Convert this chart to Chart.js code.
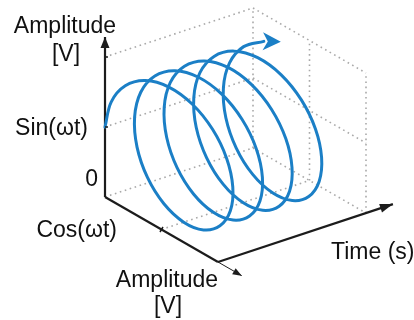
<!DOCTYPE html>
<html>
<head>
<meta charset="utf-8">
<script src="https://cdn.jsdelivr.net/npm/chart.js@4.4.0/dist/chart.umd.min.js"></script>
<style>
  html, body { margin: 0; padding: 0; background: #fff; }
  #wrap { width: 414px; height: 320px; }
</style>
</head>
<body>
<div id="wrap"><canvas id="helix" width="414" height="320"></canvas></div>
<script>
// one turn of the rotating phasor, 16 samples, starting on the back wall (cos = -1)
const cosWave = [-1, -0.924, -0.707, -0.383, 0, 0.383, 0.707, 0.924, 1, 0.924, 0.707, 0.383, 0, -0.383, -0.707, -0.924];
const sinWave = [0, 0.383, 0.707, 0.924, 1, 0.924, 0.707, 0.383, 0, -0.383, -0.707, -0.924, -1, -0.924, -0.707, -0.383];
const helixSamples = 68;            // 4 turns and a bit, ends just past the top
const timeRange = [0, 5];           // box length along time (in turns)
const depthLevels = [0, 0.5, 1];    // Cos axis
const heightLevels = [0, 0.5, 1];   // Sin axis
const axisTips = { height: 1.143, depth: 1.21, time: 5.91 };
const labelTexts = ['Amplitude', '[V]', 'Sin(ωt)', '0', 'Cos(ωt)', 'Amplitude', '[V]', 'Time (s)'];

// oblique view: time goes up-right, depth (cos) goes down-right, height (sin) goes up
const view = { ox: 105, oy: 197, tx: 29.6, ty: -9.8, dx: 113, dy: 65, hy: -140 };
function proj(t, d, h) {
    return { x: view.ox + t * view.tx + d * view.dx, y: view.oy + t * view.ty + d * view.dy + h * view.hy };
}

const per = cosWave.length;
const helixPts = [];
for (let i = 0; i < helixSamples; i++) {
    const k = i % per;
    helixPts.push(proj(i / per, 0.5 + 0.5 * cosWave[k], 0.5 + 0.5 * sinWave[k]));
}

const tEnd = timeRange[1];
const dMid = depthLevels[1], dMax = depthLevels[2];
const hMid = heightLevels[1], hMax = heightLevels[2];
const gridEdges = [
    [[0, 0, hMax], [tEnd, 0, hMax]],
    [[0, 0, hMid], [tEnd, 0, hMid]],
    [[0, 0, 0], [tEnd, 0, 0]],
    [[tEnd, 0, 0], [tEnd, 0, hMax]],
    [[tEnd, 0, hMax], [tEnd, dMax, hMax]],
    [[tEnd, dMid, 0], [tEnd, dMid, hMax]],
    [[tEnd, dMax, 0], [tEnd, dMax, hMax]],
    [[tEnd, 0, hMid], [tEnd, dMax, hMid]],
    [[tEnd, 0, 0], [tEnd, dMax, 0]],
    [[0, dMid, 0], [tEnd, dMid, 0]]
];

const datasets = [];
datasets.push({
    data: helixPts, showLine: true, borderColor: '#1b7fc6', borderWidth: 3,
    tension: 0.34, pointRadius: 0, borderCapStyle: 'round', borderJoinStyle: 'round', order: 1
});
// axes
const axisLines = [
    { a: [0, 0, 0], b: [0, 0, axisTips.height], w: 2.2 },
    { a: [0, 0, 0], b: [0, dMax, 0], w: 2.2 },
    { a: [0, dMax, 0], b: [0, axisTips.depth, 0], w: 1 },
    { a: [0, dMax, 0], b: [axisTips.time, dMax, 0], w: 2.2 }
];
axisLines.forEach(l => {
    datasets.push({
        data: [proj(...l.a), proj(...l.b)], showLine: true, borderColor: '#1c1c1c',
        borderWidth: l.w, pointRadius: 0, order: 2
    });
});
gridEdges.forEach(([a, b]) => {
    datasets.push({
        data: [proj(...a), proj(...b)], showLine: true, borderColor: '#a9a9a9',
        borderWidth: 1.6, borderDash: [1.6, 3.6], pointRadius: 0, order: 3
    });
});

function head(ctx, tip, ang, len, half, notch, color) {
    ctx.save();
    ctx.translate(tip.x, tip.y);
    ctx.rotate(ang);
    ctx.beginPath();
    ctx.moveTo(0, 0);
    ctx.lineTo(-len, -half);
    ctx.lineTo(-len + notch, 0);
    ctx.lineTo(-len, half);
    ctx.closePath();
    ctx.fillStyle = color;
    ctx.fill();
    ctx.restore();
}

const decor = {
    id: 'decor',
    afterDatasetsDraw(chart) {
        const ctx = chart.ctx;
        const sx = chart.scales.x, sy = chart.scales.y;
        const px = p => ({ x: sx.getPixelForValue(p.x), y: sy.getPixelForValue(p.y) });
        const angOf = (a, b) => Math.atan2(b.y - a.y, b.x - a.x);

        // axis arrow heads
        const o = px(proj(0, 0, 0));
        const vTip = px(proj(0, 0, axisTips.height));
        head(ctx, vTip, angOf(o, vTip), 11, 4.5, 0, '#1c1c1c');
        const c1 = px(proj(0, dMax, 0));
        const tTip = px(proj(axisTips.time, dMax, 0));
        head(ctx, tTip, angOf(c1, tTip), 13, 4.5, 0, '#1c1c1c');
        const dTip = px(proj(0, axisTips.depth, 0));
        head(ctx, dTip, angOf(o, dTip), 9, 3.5, 0, '#1c1c1c');

        // small ticks
        ctx.strokeStyle = '#1c1c1c';
        ctx.lineWidth = 1.5;
        [hMid, hMax].forEach(h => {
            const p = px(proj(0, 0, h));
            ctx.beginPath(); ctx.moveTo(p.x, p.y); ctx.lineTo(p.x + 3, p.y); ctx.stroke();
        });
        const dt = px(proj(0, dMid, 0));
        ctx.beginPath(); ctx.moveTo(dt.x - 1.5, dt.y + 2.5); ctx.lineTo(dt.x + 1.5, dt.y - 2.5); ctx.stroke();

        // helix arrow head, along the tangent at the last sample
        const n = helixSamples - 1, k = n % per;
        const end = px(helixPts[n]);
        const dT = proj(1 / per, 0.5 + 0.25 * (cosWave[(k + 1) % per] - cosWave[(k + per - 1) % per]),
                        0.5 + 0.25 * (sinWave[(k + 1) % per] - sinWave[(k + per - 1) % per]));
        const base = proj(0, 0.5, 0.5);
        const a = Math.atan2(dT.y - base.y, dT.x - base.x);
        const hTip = { x: end.x + 17 * Math.cos(a), y: end.y + 17 * Math.sin(a) };
        head(ctx, hTip, a, 18, 9, 5, '#1b7fc6');

        // labels
        ctx.fillStyle = '#111';
        ctx.font = '23px "Liberation Sans", Arial, sans-serif';
        ctx.textBaseline = 'alphabetic';
        const put = (txt, x, y, align) => { ctx.textAlign = align; ctx.fillText(txt, x, y); };
        put(labelTexts[0], 65, 33, 'center');
        put(labelTexts[1], 66, 61, 'center');
        put(labelTexts[2], 88, 135, 'right');
        put(labelTexts[3], 98, 186, 'right');
        put(labelTexts[4], 117, 237, 'right');
        put(labelTexts[5], 167, 287, 'center');
        put(labelTexts[6], 168, 313, 'center');
        put(labelTexts[7], 331, 259, 'left');
    }
};

new Chart(document.getElementById('helix'), {
    type: 'scatter',
    data: { datasets: datasets },
    options: {
        responsive: false,
        animation: false,
        layout: { padding: 0 },
        plugins: { legend: { display: false }, tooltip: { enabled: false } },
        scales: {
            x: { type: 'linear', min: 0, max: 414, display: false },
            y: { type: 'linear', min: 0, max: 320, reverse: true, display: false }
        }
    },
    plugins: [decor]
});
</script>
</body>
</html>
